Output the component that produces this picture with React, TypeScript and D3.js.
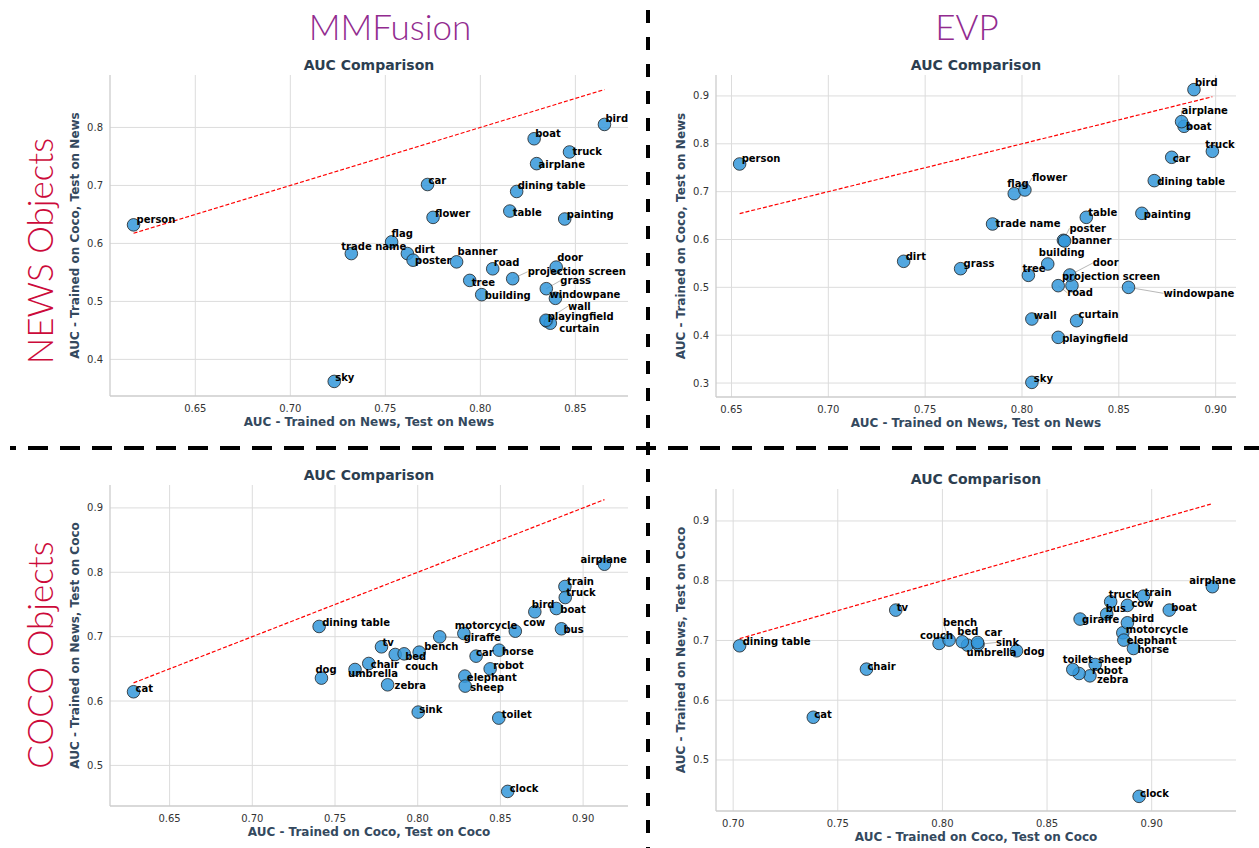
import React from "react";
import * as d3 from "d3";

// categories
const newsCategories = [
  "person", "sky", "trade name", "flag", "dirt", "poster", "car", "flower", "banner", "tree",
  "building", "road", "table", "dining table", "projection screen", "boat", "airplane", "grass",
  "playingfield", "curtain", "windowpane", "wall", "door", "painting", "truck", "bird",
];
const cocoCategories = [
  "cat", "dining table", "dog", "umbrella", "chair", "tv", "zebra", "couch", "bed", "bench",
  "sink", "giraffe", "motorcycle", "car", "elephant", "sheep", "robot", "horse", "toilet", "cow",
  "clock", "bird", "boat", "bus", "train", "truck", "airplane",
];

// MMFusion, NEWS objects
const mmfNewsX = [
  0.6175, 0.7231, 0.7321, 0.7533, 0.7616, 0.7646, 0.7722, 0.7751, 0.7875, 0.7944,
  0.8007, 0.8065, 0.8155, 0.8191, 0.817, 0.8283, 0.8296, 0.8347,
  0.8349, 0.8368, 0.8395, 0.8345, 0.8399, 0.8444, 0.8469, 0.8653,
];
const mmfNewsY = [
  0.632, 0.362, 0.5825, 0.6026, 0.5825, 0.5711, 0.7016, 0.6449, 0.5682, 0.5362,
  0.5116, 0.5562, 0.6558, 0.6896, 0.5391, 0.7805, 0.7376, 0.5219,
  0.466, 0.4624, 0.5053, 0.4675, 0.5591, 0.6421, 0.7577, 0.8052,
];

// EVP, NEWS objects
const evpNewsX = [
  0.6542, 0.8051, 0.7848, 0.796, 0.7389, 0.8214, 0.8773, 0.8015, 0.822, 0.8033,
  0.8133, 0.8187, 0.8332, 0.8683, 0.8258, 0.8837, 0.8824, 0.7683,
  0.8187, 0.8282, 0.855, 0.8051, 0.8247, 0.8619, 0.8983, 0.8888,
];
const evpNewsY = [
  0.7578, 0.3014, 0.6324, 0.6958, 0.5544, 0.5983, 0.7718, 0.7035, 0.5969, 0.5251,
  0.5488, 0.5035, 0.6463, 0.723, 0.5035, 0.8366, 0.8463, 0.539,
  0.3955, 0.4303, 0.5, 0.4338, 0.5258, 0.6547, 0.7843, 0.9132,
];

// MMFusion, COCO objects
const mmfCocoX = [
  0.6282, 0.7404, 0.7418, 0.7621, 0.7704, 0.7781, 0.7818, 0.7864, 0.7918, 0.8009,
  0.8003, 0.8133, 0.8279, 0.8353, 0.8285, 0.8287, 0.8438, 0.8492, 0.849, 0.859,
  0.8544, 0.8708, 0.8838, 0.8869, 0.889, 0.8892, 0.9129,
];
const mmfCocoY = [
  0.6144, 0.7158, 0.6356, 0.649, 0.6583, 0.6842, 0.6252, 0.6723, 0.6733, 0.6759,
  0.5828, 0.6997, 0.7049, 0.6697, 0.6387, 0.6232, 0.65, 0.679, 0.5735, 0.7085,
  0.4596, 0.7386, 0.7437, 0.7122, 0.7779, 0.7608, 0.8125,
];

// EVP, COCO objects
const evpCocoX = [
  0.7383, 0.7031, 0.8354, 0.812, 0.7637, 0.7777, 0.8705, 0.7984, 0.8095, 0.8032,
  0.817, 0.8658, 0.8862, 0.8168, 0.8867, 0.873, 0.8653, 0.8913, 0.8623, 0.8884,
  0.894, 0.8884, 0.9084, 0.8785, 0.8961, 0.8804, 0.929,
];
const evpCocoY = [
  0.5715, 0.6911, 0.6827, 0.6922, 0.652, 0.7508, 0.6408, 0.695, 0.6978, 0.7006,
  0.6933, 0.7358, 0.7128, 0.6966, 0.7006, 0.6598, 0.6447, 0.6866, 0.6514, 0.7587,
  0.4391, 0.7296, 0.7508, 0.7441, 0.7743, 0.7648, 0.79,
];

// label placement (adjustText style): [dx, dy, leader]
type Nudge = [number, number, number?];

const tlNudge: Record<string, Nudge> = {
  person: [3, -5], sky: [1, -4], "trade name": [-10, -7], flag: [0, -8], dirt: [7, -4],
  poster: [2, 0], car: [1, -4], flower: [2, -4], banner: [1, -10], tree: [2, 2],
  building: [3, 1], road: [1, -6], table: [3, 1], "dining table": [1, -6],
  "projection screen": [15, -7, 1], boat: [1, -5], airplane: [2, 1], grass: [14, -8, 1],
  playingfield: [1, -5], curtain: [9, 5], windowpane: [-6, -4], wall: [22, -14, 1],
  door: [1, -10], painting: [2, -5], truck: [3, 0], bird: [1, -6],
};
const trNudge: Record<string, Nudge> = {
  person: [2, -5], dirt: [2, -5], grass: [3, -5], "trade name": [3, 0], flag: [-7, -10],
  flower: [7, -12, 1], tree: [-6, -7], sky: [2, -4], wall: [2, -4], building: [-9, -11],
  road: [9, 7, 1], playingfield: [4, 1], poster: [6, -12, 1], banner: [7, 0], door: [23, -12, 1],
  "projection screen": [-10, -9], curtain: [2, -6], table: [2, -5], windowpane: [35, 6, 1],
  painting: [2, 1], "dining table": [3, 1], car: [1, 1], airplane: [0, -11, 1], boat: [2, 0],
  bird: [1, -7], truck: [-7, -7],
};
const blNudge: Record<string, Nudge> = {
  cat: [2, -3], "dining table": [3, -4], dog: [-6, -9], umbrella: [-7, 4], chair: [2, 1],
  tv: [1, -4], zebra: [7, 1], couch: [10, 12], bed: [1, 3], bench: [5, -6], sink: [1, -3],
  giraffe: [24, 1, 1], motorcycle: [-9, -8], car: [0, -4], horse: [3, 1], robot: [3, -3],
  elephant: [2, 1], sheep: [5, 1], toilet: [3, -4], cow: [8, -9], clock: [2, -3], bird: [-3, -7],
  boat: [4, 1], bus: [2, 1], train: [2, -5], truck: [1, -5], airplane: [-24, -5],
};
const brNudge: Record<string, Nudge> = {
  "dining table": [3, -4], cat: [1, -3], chair: [1, -3], tv: [1, -3], couch: [-19, -8],
  bench: [-6, -18, 1], bed: [-5, -10], car: [7, -10], sink: [18, -2, 1], umbrella: [-1, 7],
  dog: [7, 1], toilet: [-10, -10], sheep: [3, -5], robot: [13, -3], zebra: [7, 4],
  giraffe: [2, 0], bus: [-1, -6], truck: [-2, -7], cow: [4, -2], bird: [4, -4],
  motorcycle: [3, -3], elephant: [3, 0], horse: [4, 1], clock: [1, -3], train: [1, -4],
  boat: [2, -3], airplane: [-23, -6],
};

const FONT = "'DejaVu Sans', sans-serif";

interface PanelProps {
  title: string;
  xLabel: string;
  yLabel: string;
  names: string[];
  xs: number[];
  ys: number[];
  box: [number, number, number, number];
  nudge: Record<string, Nudge>;
}

function Panel({ title, xLabel, yLabel, names, xs, ys, box, nudge }: PanelProps) {
  const [left, top, right, bottom] = box;
  const lo = d3.min(xs) as number;
  const hi = d3.max(xs) as number;
  const yLo = Math.min(d3.min(ys) as number, lo);
  const yHi = Math.max(d3.max(ys) as number, hi);
  // matplotlib default 5% margins
  const px = (hi - lo) * 0.05;
  const py = (yHi - yLo) * 0.05;
  const x = d3.scaleLinear().domain([lo - px, hi + px]).range([left, right]);
  const y = d3.scaleLinear().domain([yLo - py, yHi + py]).range([bottom, top]);
  const fx = d3.format(".2f");
  const fy = d3.format(".1f");
  const pts = names.map((n, i) => ({
    n,
    cx: x(xs[i]),
    cy: y(ys[i]),
    off: nudge[n] || ([1, -5] as Nudge),
  }));
  const diag = d3.line()([
    [x(lo), y(lo)],
    [x(hi), y(hi)],
  ]) as string;
  const midX = (left + right) / 2;
  const midY = (top + bottom) / 2;

  return (
    <g>
      {x.ticks(6).map((t) => (
        <line key={"gx" + t} x1={x(t)} x2={x(t)} y1={top} y2={bottom} stroke="#dcdcdc" strokeWidth={1} />
      ))}
      {y.ticks(5).map((t) => (
        <line key={"gy" + t} x1={left} x2={right} y1={y(t)} y2={y(t)} stroke="#dcdcdc" strokeWidth={1} />
      ))}
      <line x1={left} x2={left} y1={top} y2={bottom} stroke="#cccccc" strokeWidth={1.3} />
      <line x1={left} x2={right} y1={bottom} y2={bottom} stroke="#cccccc" strokeWidth={1.3} />
      <path d={diag} stroke="#ff0000" strokeWidth={1.2} strokeDasharray="4 2" fill="none" />
      {pts
        .filter((p) => p.off[2])
        .map((p) => (
          <line
            key={"l" + p.n}
            x1={p.cx}
            y1={p.cy}
            x2={p.cx + p.off[0]}
            y2={p.cy + p.off[1]}
            stroke="#999"
            strokeWidth={0.7}
          />
        ))}
      {pts.map((p) => (
        <circle
          key={"c" + p.n}
          cx={p.cx}
          cy={p.cy}
          r={6.3}
          fill="#3498db"
          fillOpacity={0.85}
          stroke="#222"
          strokeWidth={0.8}
        />
      ))}
      {pts.map((p) => (
        <text
          key={"t" + p.n}
          x={p.cx + p.off[0]}
          y={p.cy + p.off[1]}
          dominantBaseline="central"
          fontFamily={FONT}
          fontWeight="bold"
          fontSize={10}
          fill="#000"
        >
          {p.n}
        </text>
      ))}
      {x.ticks(6).map((t) => (
        <text key={"tx" + t} x={x(t)} y={bottom + 12} textAnchor="middle" dominantBaseline="central"
          fontFamily={FONT} fontSize={10} fill="#333">
          {fx(t)}
        </text>
      ))}
      {y.ticks(5).map((t) => (
        <text key={"ty" + t} x={left - 7} y={y(t)} textAnchor="end" dominantBaseline="central"
          fontFamily={FONT} fontSize={10} fill="#333">
          {fy(t)}
        </text>
      ))}
      <text x={midX} y={bottom + 26} textAnchor="middle" dominantBaseline="central" fontFamily={FONT}
        fontWeight="bold" fontSize={12} fill="#34495e">
        {xLabel}
      </text>
      <text transform={`translate(${left - 35},${midY}) rotate(-90)`} textAnchor="middle"
        dominantBaseline="central" fontFamily={FONT} fontWeight="bold" fontSize={12} fill="#34495e">
        {yLabel}
      </text>
      <text x={midX} y={top - 10} textAnchor="middle" dominantBaseline="central" fontFamily={FONT}
        fontWeight="bold" fontSize={14} fill="#2c3e50">
        {title}
      </text>
    </g>
  );
}

export default function App() {
  const W = 1259;
  const H = 848;
  const big = "Lato, 'Open Sans', sans-serif";
  return (
    <svg width={W} height={H} style={{ position: "absolute", left: 0, top: 0, background: "#fff" }}>
      <rect width={W} height={H} fill="#fff" />
      <text x={390} y={40} textAnchor="middle" fontFamily={big} fontWeight={300} fontSize={35} fill="#922b8f">MMFusion</text>
      <text x={967} y={40} textAnchor="middle" fontFamily={big} fontWeight={300} fontSize={35} fill="#922b8f">EVP</text>
      <text transform="translate(53,251) rotate(-90)" textAnchor="middle" fontFamily={big} fontWeight={300} fontSize={35} fill="#cc0a3a">
        NEWS Objects
      </text>
      <text transform="translate(53,655) rotate(-90)" textAnchor="middle" fontFamily={big} fontWeight={300} fontSize={35} fill="#cc0a3a">
        COCO Objects
      </text>

      <Panel title="AUC Comparison" xLabel="AUC - Trained on News, Test on News"
        yLabel="AUC - Trained on Coco, Test on News" names={newsCategories} xs={mmfNewsX} ys={mmfNewsY}
        box={[110, 75, 628, 396]} nudge={tlNudge} />
      <Panel title="AUC Comparison" xLabel="AUC - Trained on News, Test on News"
        yLabel="AUC - Trained on Coco, Test on News" names={newsCategories} xs={evpNewsX} ys={evpNewsY}
        box={[716, 75, 1236, 397]} nudge={trNudge} />
      <Panel title="AUC Comparison" xLabel="AUC - Trained on Coco, Test on Coco"
        yLabel="AUC - Trained on News, Test on Coco" names={cocoCategories} xs={mmfCocoX} ys={mmfCocoY}
        box={[110, 485, 628, 806]} nudge={blNudge} />
      <Panel title="AUC Comparison" xLabel="AUC - Trained on Coco, Test on Coco"
        yLabel="AUC - Trained on News, Test on Coco" names={cocoCategories} xs={evpCocoX} ys={evpCocoY}
        box={[716, 489, 1236, 811]} nudge={brNudge} />

      {/* section dividers */}
      <line x1={648} x2={648} y1={10} y2={H} stroke="#000" strokeWidth={4} strokeDasharray="13 14" />
      <line x1={10} x2={W} y1={448} y2={448} stroke="#000" strokeWidth={4} strokeDasharray="20 12" strokeDashoffset={14} />
    </svg>
  );
}
